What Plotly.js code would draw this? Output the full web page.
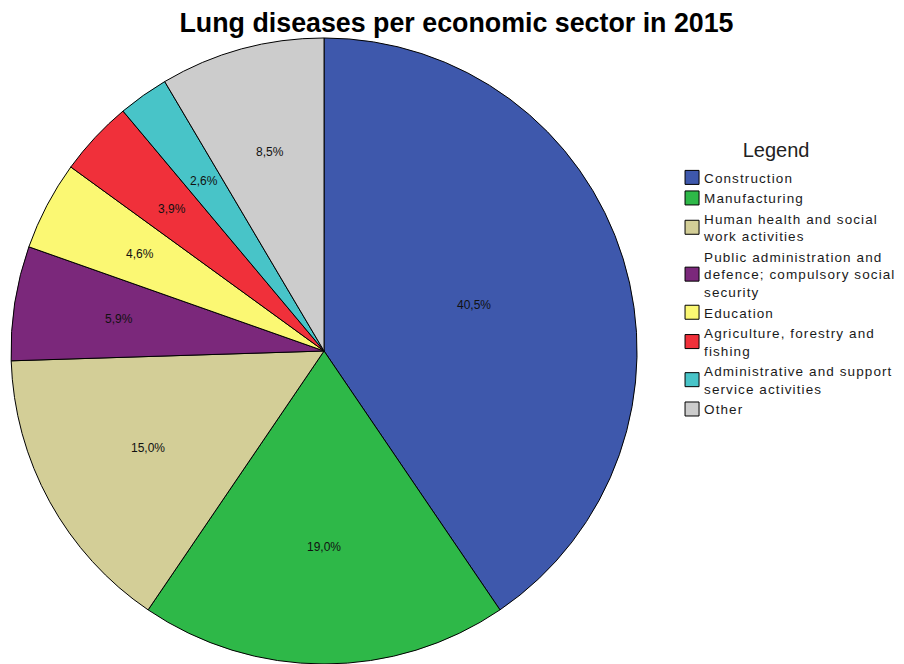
<!DOCTYPE html>
<html>
<head>
<meta charset="utf-8">
<script src="https://cdn.plot.ly/plotly-3.0.1.min.js"></script>
<style>
html,body{margin:0;padding:0;background:#fff;}
#chart{width:904px;height:664px;}
#chart .legendtext{letter-spacing:1.1px;}
</style>
</head>
<body>
<div id="chart"></div>
<script>
const sectors = [
  "Construction",
  "Manufacturing",
  "Human health and social<br>work activities",
  "Public administration and<br>defence; compulsory social<br>security",
  "Education",
  "Agriculture, forestry and<br>fishing",
  "Administrative and support<br>service activities",
  "Other"
];
const shares = [40.5, 19.0, 15.0, 5.9, 4.6, 3.9, 2.6, 8.5];
const colors = ["#3E58AC", "#2EB848", "#D3CE97", "#7B287B", "#FBF873", "#F0303A", "#48C4C8", "#CCCCCC"];

const W = 904, H = 664;
const dom = {x: [0.0111, 0.7058], y: [0, 0.9428]};

// pie geometry (as plotly lays it out inside the domain)
const pw = (dom.x[1] - dom.x[0]) * W, ph = (dom.y[1] - dom.y[0]) * H;
const R = Math.min(pw, ph) / 2;
const cx = (dom.x[0] + dom.x[1]) / 2, cy = (dom.y[0] + dom.y[1]) / 2;

// percentage labels at the centroid of each slice (clockwise from 12 o'clock)
const total = shares.reduce((a, b) => a + b, 0);
let cum = 0;
const annotations = shares.map(v => {
  const theta = v / total * 2 * Math.PI;
  const mid = (cum + v / 2) / total * 2 * Math.PI;
  cum += v;
  const r = 4 * R * Math.sin(theta / 2) / (3 * theta);
  return {
    xref: "paper", yref: "paper",
    x: cx + r * Math.sin(mid) / W,
    y: cy + r * Math.cos(mid) / H,
    xanchor: "center", yanchor: "middle",
    text: v.toFixed(1).replace(".", ",") + "%",
    showarrow: false,
    font: {family: "Liberation Sans, Arial, sans-serif", size: 12, color: "#111"}
  };
});

const trace = {
  type: "pie",
  labels: sectors,
  values: shares,
  sort: false,
  direction: "clockwise",
  rotation: 0,
  marker: {colors: colors, line: {color: "#000", width: 1}},
  textinfo: "none",
  hoverinfo: "label+percent",
  domain: dom
};

const layout = {
  width: W, height: H,
  margin: {l: 0, r: 0, t: 0, b: 0},
  separators: ",.",
  paper_bgcolor: "#fff",
  title: {text: "<b>Lung diseases per economic sector in 2015</b>", x: 0.505, xanchor: "center", y: 0.966, yanchor: "middle",
          font: {family: "Liberation Sans, Arial, sans-serif", size: 26.8, color: "#000"}},
  showlegend: true,
  annotations: annotations,
  legend: {
    x: 0.7434, xanchor: "left", y: 0.795, yanchor: "top",
    bgcolor: "rgba(0,0,0,0)",
    title: {text: "Legend", side: "top center", font: {family: "Liberation Sans, Arial, sans-serif", size: 20, color: "#222"}},
    font: {family: "Liberation Sans, Arial, sans-serif", size: 13.5, color: "#1a1a1a"},
    itemwidth: 30,
    traceorder: "normal"
  }
};

Plotly.newPlot("chart", [trace], layout, {displayModeBar: false}).then(gd => {
  gd.querySelectorAll(".legend [clip-path]").forEach(el => el.removeAttribute("clip-path"));
  gd.querySelectorAll(".legend .legendtext").forEach(t => {
    t.setAttribute("x", 32);
    t.querySelectorAll("tspan[x]").forEach(s => s.setAttribute("x", 32));
  });
  gd.querySelectorAll(".legend .legendpoints path").forEach(p => {
    p.setAttribute("d", "M7,7V-7H-7V7Z");
  });
  const lt = gd.querySelector(".legend .legendtitletext");
  if (lt) {
    const tr = lt.getAttribute("transform") || "";
    lt.setAttribute("transform", tr + " translate(0,-5)");
  }
});
</script>
</body>
</html>
